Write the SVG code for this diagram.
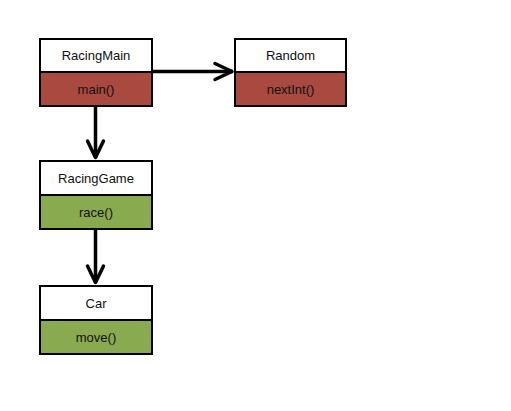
<svg xmlns="http://www.w3.org/2000/svg" width="511" height="411" viewBox="0 0 511 411">
<style>
.hd{fill:#ffffff;stroke:#000;stroke-width:2}
.red{fill:#a9493f;stroke:#000;stroke-width:2}
.grn{fill:#8aaa4f;stroke:#000;stroke-width:2}
text{font-family:"Liberation Sans",Arial,sans-serif;font-size:13px;text-anchor:middle;fill:#111}
.ln{stroke:#000;stroke-width:3.5;fill:none}
.hd2{stroke:#000;stroke-width:3.5;fill:none;stroke-linecap:round;stroke-linejoin:round}
</style>
<rect width="511" height="411" fill="#fff"/>
<g id="connectors">
<line class="ln" x1="153" y1="71.5" x2="233" y2="71.5"/>
<polyline class="hd2" points="215,63.5 232,71.5 215,79.5"/>
<line class="ln" x1="95.5" y1="107" x2="95.5" y2="158"/>
<polyline class="hd2" points="87.5,141 95.5,157.5 103.5,141"/>
<line class="ln" x1="95.5" y1="230" x2="95.5" y2="283"/>
<polyline class="hd2" points="87.5,266 95.5,282.5 103.5,266"/>
</g>
<g id="RacingMain">
<rect class="hd" x="40" y="39" width="112" height="33"/>
<rect class="red" x="40" y="72" width="112" height="34"/>
<text x="96" y="60">RacingMain</text>
<text x="96" y="93.5">main()</text>
</g>
<g id="Random">
<rect class="hd" x="235" y="39" width="111" height="33"/>
<rect class="red" x="235" y="72" width="111" height="34"/>
<text x="290.5" y="60">Random</text>
<text x="290.5" y="93.5">nextInt()</text>
</g>
<g id="RacingGame">
<rect class="hd" x="40" y="161" width="112" height="34"/>
<rect class="grn" x="40" y="195" width="112" height="34"/>
<text x="96" y="182.5">RacingGame</text>
<text x="96" y="216.5">race()</text>
</g>
<g id="Car">
<rect class="hd" x="40" y="286" width="112" height="34"/>
<rect class="grn" x="40" y="320" width="112" height="34"/>
<text x="96" y="307.5">Car</text>
<text x="96" y="341.5">move()</text>
</g>
</svg>
